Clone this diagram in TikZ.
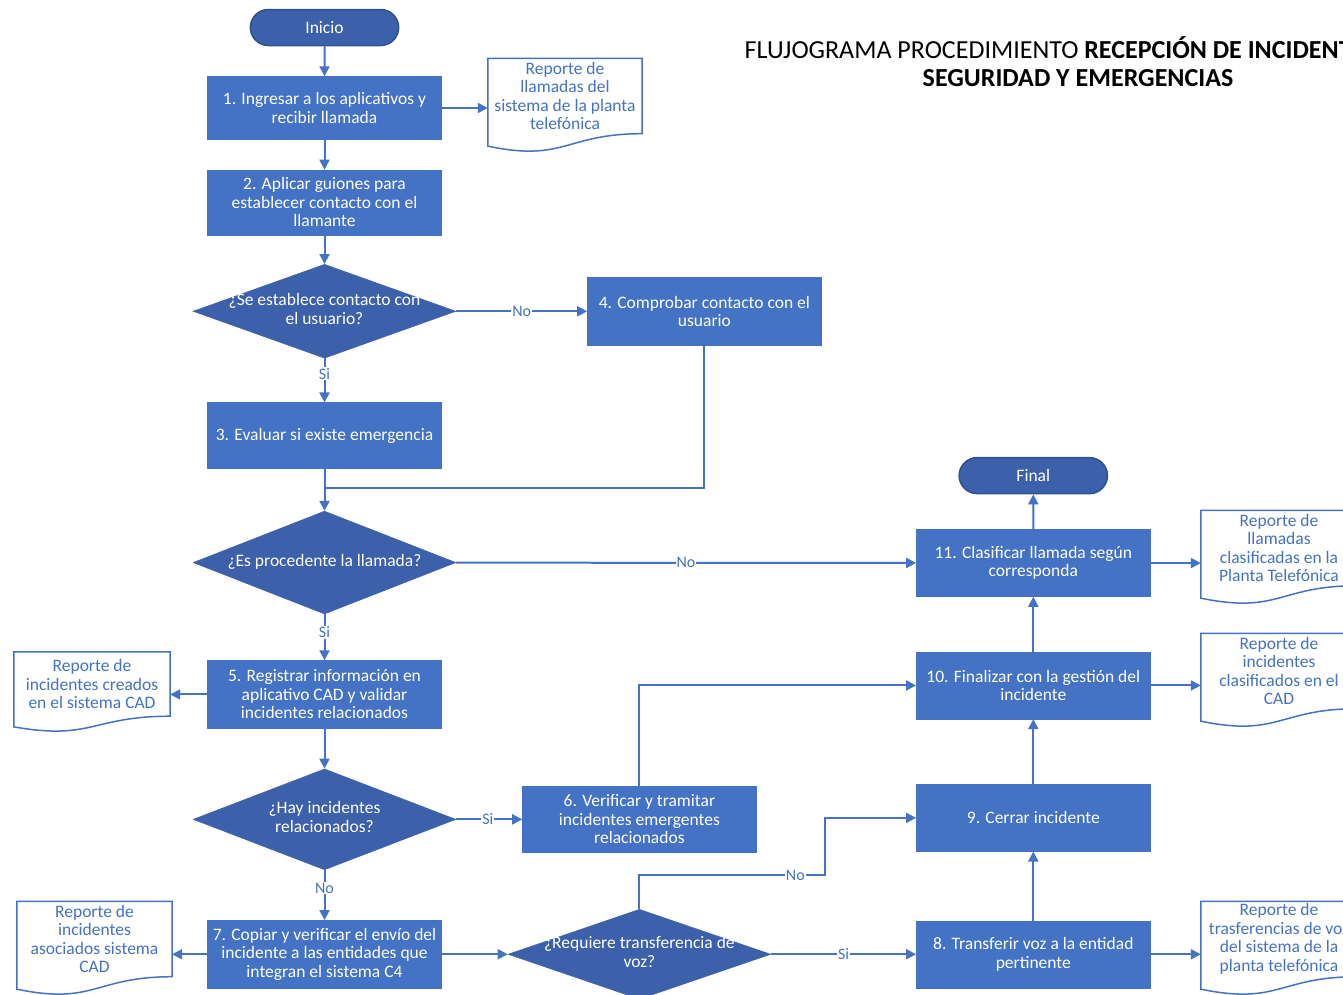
\documentclass[tikz,border=0pt]{standalone}
\usepackage{fontspec}
\setmainfont{Carlito}
\usepackage{xcolor}
\usepackage{tikz}
\usetikzlibrary{calc,arrows.meta,positioning,shapes.misc,shapes.geometric}

\definecolor{boxblue}{RGB}{68,114,196}
\definecolor{darkblue}{RGB}{61,96,170}
\definecolor{edgeblue}{RGB}{47,82,143}
\newcommand\boxfont{\fontsize{17.5}{18.5}\selectfont}
\newcommand\dtxt[1]{\makebox[0pt]{\begin{tabular}{@{}c@{}}#1\end{tabular}}}

\begin{document}
\begin{tikzpicture}[
    x=1pt, y=-1pt,
    terminal/.style={
        % The shape:
        rounded rectangle,
        minimum width=155pt,
        minimum height=36pt,
        % The fill
        line width=1.5pt,
        draw=edgeblue,
        fill=darkblue,
        % The fonts
        text=white,
        font=\boxfont},
    process/.style={
        rectangle,
        minimum width=234pt,
        minimum height=66pt,
        inner sep=0pt,
        draw=boxblue,
        fill=boxblue,
        text=white,
        align=center,
        font=\boxfont},
    decision/.style={
        diamond,
        aspect=2.75,
        inner sep=0pt,
        minimum width=263pt,
        minimum height=#1,
        draw=darkblue,
        fill=darkblue,
        text=white,
        font=\boxfont},
    decision/.default=94pt,
    report/.style={
        rectangle,
        minimum width=155pt,
        minimum height=75pt,
        inner sep=0pt,
        text=boxblue,
        align=center,
        font=\boxfont},
    conn/.style={draw=boxblue, line width=2pt},
    flow/.style={conn, -{Triangle[length=10pt,width=10pt]}},
    lbl/.style={fill=white, inner sep=1pt, text=boxblue,
        font=\fontsize{16}{17}\selectfont}]%hoja completa
  \useasboundingbox (0,0) rectangle (1343,994);
  \fill[white] (0,0) rectangle (1343,994);
  \node (titulo) [align=center, font=\fontsize{26}{28}\selectfont] at (1078,62)
    {FLUJOGRAMA PROCEDIMIENTO \textbf{RECEPCIÓN DE INCIDENTES DE}\\
     \textbf{SEGURIDAD Y EMERGENCIAS}};
  % columna principal
  \node (inicio) [terminal] at (324.5,27.5) {Inicio};
  \node (b1) [process, minimum height=63pt, below=30pt of inicio]
    {1. Ingresar a los aplicativos y\\recibir llamada};
  \node (b2) [process, minimum height=65pt, below=30pt of b1]
    {2. Aplicar guiones para\\establecer contacto con el\\llamante};
  \node (d1) [decision, below=29pt of b2]
    {\dtxt{¿Se establece contacto con\\el usuario?}};
  \node (b3) [process, below=44pt of d1] {3. Evaluar si existe emergencia};
  \node (d2) [decision=103pt, below=42pt of b3]
    {\dtxt{¿Es procedente la llamada?}};
  \node (b5) [process, minimum height=68pt, below=46pt of d2]
    {5. Registrar información en\\aplicativo CAD y validar\\incidentes relacionados};
  \node (d3) [decision=101pt, below=40pt of b5]
    {\dtxt{¿Hay incidentes\\relacionados?}};
  \node (b7) [process, minimum height=68pt, below=50pt of d3]
    {7. Copiar y verificar el envío del\\incidente a las entidades que\\integran el sistema C4};
  % ramas a la derecha
  \node (b4) [process, minimum height=68pt, right=131pt of d1]
    {4. Comprobar contacto con el\\usuario};
  \node (b6) [process, right=66pt of d3]
    {6. Verificar y tramitar\\incidentes emergentes\\relacionados};
  \node (d4) [decision=90pt, right=66pt of b7]
    {\dtxt{¿Requiere transferencia de\\voz?}};
  \node (b8) [process, minimum height=67pt, right=145pt of d4]
    {8. Transferir voz a la entidad\\pertinente};
  \node (b9) [process, minimum height=67pt, above=69pt of b8] {9. Cerrar incidente};
  \node (b10) [process, minimum height=67pt, above=65pt of b9]
    {10. Finalizar con la gestión del\\incidente};
  \node (b11) [process, minimum height=67pt, above=55pt of b10]
    {11. Clasificar llamada según\\corresponda};
  \node (final) [terminal, above=35pt of b11] {Final};
  % reportes
  \node (r1) [report, minimum width=154pt] at (565,96)
    {Reporte de\\llamadas del\\sistema de la planta\\telefónica};
  \node (r11) [report, minimum width=156pt] at (1279,548)
    {Reporte de\\llamadas\\clasificadas en la\\Planta Telefónica};
  \node (r10) [report, minimum width=156pt] at (1279,671)
    {Reporte de\\incidentes\\clasificados en el\\CAD};
  \node (r8) [report, minimum width=156pt] at (1279,939)
    {Reporte de\\trasferencias de voz\\del sistema de la\\planta telefónica};
  \node (r5) [report, minimum width=156pt, minimum height=64pt] at (92,684)
    {Reporte de\\incidentes creados\\en el sistema CAD};
  \node (r7) [report] at (94.5,939)
    {Reporte de\\incidentes\\asociados sistema\\CAD};
  \foreach \d in {r1,r5,r7,r8,r10,r11}
    \draw[boxblue, line width=1.5pt] let \p1=($(\d.north)-(\d.south)$) in
      (\d.north west) -- (\d.north east) -- (\d.south east)
      .. controls (\d.south) and ($(\d.south)+(0pt,-0.38*\y1)$)
      .. ($(\d.south west)+(0pt,-0.165*\y1)$) -- cycle;
  % conectores
  \coordinate (join) at ($(b3.south)!0.45!(d2.north)$);
  \coordinate (k1) at (825,875);
  \draw[flow] (inicio) -- (b1);
  \draw[flow] (b1) -- (b2);
  \draw[flow] (b1) -- (b1 -| r1.west);
  \draw[flow] (b2) -- (d1);
  \draw[flow] (d1) -- node[lbl, pos=0.35] {Si} (b3);
  \draw[flow] (d1) -- node[lbl] {No} (b4);
  \draw[flow] (b3) -- (d2);
  \draw[conn] (b4) |- (join);
  \draw[flow] (d2) -- node[lbl] {No} (b11);
  \draw[flow] (d2) -- node[lbl, pos=0.39] {Si} (b5);
  \draw[flow] (b5) -- (b5 -| r5.east);
  \draw[flow] (b5) -- (d3);
  \draw[flow] (d3) -- node[lbl, pos=0.48] {Si} (b6);
  \draw[flow] (d3) -- node[lbl, pos=0.36] {No} (b7);
  \draw[flow] (b6) |- (b10);
  \draw[flow] (b7) -- (d4);
  \draw[flow] (b7) -- (b7 -| r7.east);
  \draw[flow] (d4) |- node[lbl, pos=0.92] {No} (k1) |- (b9);
  \draw[flow] (d4) -- node[lbl] {Si} (b8);
  \draw[flow] (b8) -- (b9);
  \draw[flow] (b8) -- (b8 -| r8.west);
  \draw[flow] (b9) -- (b10);
  \draw[flow] (b10) -- (b11);
  \draw[flow] (b10) -- (b10 -| r10.west);
  \draw[flow] (b11) -- (final);
  \draw[flow] (b11) -- (b11 -| r11.west);
\end{tikzpicture}
\end{document}
